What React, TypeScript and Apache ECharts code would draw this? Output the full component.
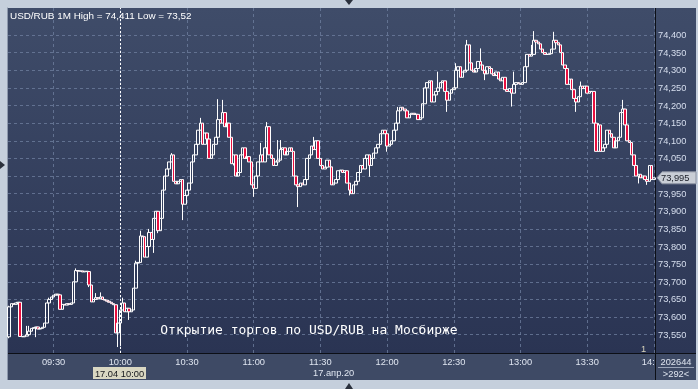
import React, { useEffect, useRef } from "react";
import * as echarts from "echarts";

// ---------- data ----------
const START_MINUTE = 9 * 60 + 10; // first bar 09:10
const TICK_LABELS = ["09:30", "10:00", "10:30", "11:00", "11:30", "12:00", "12:30", "13:00", "13:30", "14:00"];
const CURSOR_TIME = "10:00";
const Y_MIN_TICK = 73.55;
const Y_MAX_TICK = 74.4;
const Y_STEP = 0.05;
const BASE = 73; // prices stored as thousandths above 73.000
const FIRST_OPEN = 544;
const CLOSES = [
  629, 638, 636, 640, 642, 545, 544, 546, 550, 560,
  568, 570, 572, 566, 568, 571, 583, 640, 650, 657,
  662, 665, 663, 622, 636, 634, 638, 636, 640, 700,
  732, 730, 731, 728, 730, 729, 691, 643, 650, 655,
  652, 657, 650, 648, 645, 642, 638, 635, 555, 583,
  620, 640, 615, 625, 615, 620, 682, 753, 755, 830,
  828, 770, 800, 840, 820, 880, 900, 845, 880, 960,
  1000, 1020, 1040, 1060, 985, 978, 985, 990, 920, 945,
  960, 980, 1040, 1060, 1090, 1130, 1150, 1090, 1122, 1105,
  1050, 1060, 1090, 1110, 1160, 1150, 1180, 1140, 1150, 1110,
  1035, 1060, 1000, 1010, 1060, 1080, 1050, 1055, 1040, 975,
  965, 1000, 1040, 1060, 1040, 1080, 1140, 1060, 1050, 1030,
  1040, 1045, 1075, 1080, 1060, 1070, 1080, 1070, 1000, 975,
  970, 980, 975, 990, 1050, 1060, 1085, 1075, 1100, 1050,
  1030, 1020, 1025, 1045, 1026, 975, 980, 990, 1015, 1017,
  1010, 1015, 980, 960, 950, 975, 985, 1010, 1030, 1020,
  1050, 1060, 1030, 1050, 1065, 1080, 1090, 1120, 1130, 1120,
  1085, 1090, 1100, 1130, 1150, 1185, 1195, 1190, 1185, 1165,
  1175, 1178, 1175, 1175, 1160, 1165, 1205, 1250, 1265, 1270,
  1210, 1230, 1240, 1250, 1265, 1270, 1240, 1215, 1235, 1245,
  1250, 1300, 1310, 1280, 1295, 1300, 1372, 1321, 1300, 1295,
  1305, 1325, 1315, 1300, 1290, 1310, 1305, 1290, 1285, 1295,
  1275, 1270, 1280, 1245, 1240, 1248, 1235, 1260, 1265, 1262,
  1260, 1265, 1310, 1345, 1340, 1345, 1385, 1380, 1375, 1360,
  1350, 1345, 1345, 1347, 1360, 1385, 1378, 1372, 1350, 1315,
  1305, 1260, 1275, 1245, 1220, 1210, 1225, 1255, 1248, 1255,
  1235, 1240, 1240, 1150, 1070, 1145, 1070, 1080, 1090, 1130,
  1120, 1110, 1080, 1100, 1110, 1180, 1190, 1145, 1100, 1095,
  1060, 1030, 1000, 1005, 995, 1000, 990, 985, 1030, 990,
  995,
];
const HIGHS: Record<number, number> = {
  0: 632, 8: 575, 9: 575, 18: 655, 30: 738, 39: 668, 41: 670, 51: 655, 57: 760, 59: 845,
  63: 850, 73: 1065, 86: 1165, 94: 1218, 96: 1216, 113: 1094, 116: 1153, 121: 1102, 122: 1102,
  137: 1111, 175: 1196, 193: 1296, 201: 1320, 206: 1386, 212: 1362, 227: 1296, 235: 1372,
  236: 1411, 245: 1409, 257: 1268, 265: 1150, 276: 1216,
};
const LOWS: Record<number, number> = {
  0: 540, 12: 543, 36: 685, 49: 515, 50: 518, 54: 592, 65: 782, 67: 838, 78: 875, 101: 1030,
  110: 941, 130: 912, 153: 945, 162: 998, 170: 1069, 197: 1182, 214: 1272, 226: 1197,
  255: 1182, 283: 979, 287: 975,
};
const LAST_PRICE = 73.995;
const TITLE = "USD/RUB 1M High = 74,411 Low = 73,52";
const CAPTION = "Открытие торгов по USD/RUB на Мосбирже";
const CURSOR_LABEL = "17.04 10:00";
const DATE_LABEL = "17.апр.20";
const COUNTER_TOP = "202644";
const COUNTER_BOTTOM = ">292<";
const PANE_NUMBER = "1";

// ---------- layout ----------
const W = 698;
const H = 389;
const PLOT = { left: 8, top: 8, width: 647, height: 345 };
const TICK_TOP_PX = 35;
const TICK_BOT_PX = 334.7;
const FONT = '"Liberation Sans", Arial, sans-serif';
const FS = 9.3;

const pad2 = (n: number) => String(n).padStart(2, "0");

export default function App() {
  const ref = useRef<HTMLDivElement>(null);

  useEffect(() => {
    if (!ref.current) return;
    const chart = echarts.init(ref.current, undefined, { renderer: "svg" });

    const cats = CLOSES.map((_, i) => {
      const m = START_MINUTE + i;
      return `${pad2(Math.floor(m / 60))}:${pad2(m % 60)}`;
    });
    const bars = CLOSES.map((c, i) => {
      const o = i === 0 ? FIRST_OPEN : CLOSES[i - 1];
      const h = HIGHS[i] ?? Math.max(o, c);
      const l = LOWS[i] ?? Math.min(o, c);
      return [o, c, l, h].map((v) => +(BASE + v / 1000).toFixed(3));
    });

    const ppu = (TICK_BOT_PX - TICK_TOP_PX) / (Y_MAX_TICK - Y_MIN_TICK);
    const y0max = Y_MAX_TICK + (TICK_TOP_PX - PLOT.top) / ppu;
    const y0min = Y_MIN_TICK - (PLOT.top + PLOT.height - TICK_BOT_PX) / ppu;
    const tagY = TICK_TOP_PX + (Y_MAX_TICK - LAST_PRICE) * ppu;

    const isTick = (_i: number, v: string) => TICK_LABELS.includes(v);
    const lastTick = TICK_LABELS[TICK_LABELS.length - 1];
    const gridColor = "rgba(112,128,160,0.75)";
    const plotGrad = new echarts.graphic.LinearGradient(0, 0, 0, 1, [
      { offset: 0, color: "#3f4c69" },
      { offset: 1, color: "#2a3453" },
    ]);
    const sideGrad = new echarts.graphic.LinearGradient(0, 0, 0, 1, [
      { offset: 0, color: "#3f4c69" },
      { offset: 1, color: "#2c3655" },
    ]);
    const txt = (text: string, x: number, y: number, fill: string, align = "left", font = `${FS}px ${FONT}`, z = 20) => ({
      type: "text",
      z,
      style: { text, x, y, fill, align, verticalAlign: "middle", font },
    });

    const right = PLOT.left + PLOT.width; // 655

    chart.setOption({
      animation: false,
      backgroundColor: "transparent",
      grid: [
        { left: PLOT.left, top: PLOT.top, width: PLOT.width, height: PLOT.height, show: false },
        { left: PLOT.left, top: TICK_TOP_PX, width: PLOT.width, height: TICK_BOT_PX - TICK_TOP_PX, show: false },
      ],
      xAxis: [
        {
          type: "category",
          gridIndex: 0,
          data: cats,
          boundaryGap: true,
          z: 1,
          axisLine: { show: false },
          axisTick: { show: false },
          axisLabel: {
            interval: isTick,
            color: "#dfe5f0",
            fontSize: FS,
            fontFamily: FONT,
            margin: 4,
            // the last tick label is cut by the price panel, as in the source
            formatter: (v: string) => (v === lastTick ? `{cut|${v.slice(0, 4)}}` : v),
            rich: { cut: { color: "#dfe5f0", fontSize: FS, fontFamily: FONT, padding: [0, 6, 0, 0] } },
          },
          splitLine: { show: true, interval: isTick, alignWithLabel: true, lineStyle: { color: gridColor, type: [3, 3], width: 1 } },
        },
        { type: "value", gridIndex: 1, show: false, min: 0, max: 1 },
      ],
      yAxis: [
        { type: "value", gridIndex: 0, show: false, min: y0min, max: y0max },
        {
          type: "value",
          gridIndex: 1,
          position: "right",
          min: Y_MIN_TICK,
          max: Y_MAX_TICK,
          interval: Y_STEP,
          z: 10,
          axisLine: { show: false },
          axisTick: { show: false },
          axisLabel: {
            color: "#d6deee",
            fontSize: FS,
            fontFamily: FONT,
            margin: 3,
            showMinLabel: true,
            showMaxLabel: true,
            formatter: (v: number) => (Math.abs(v - LAST_PRICE) < Y_STEP / 2 ? "" : v.toFixed(3).replace(".", ",")),
          },
          splitLine: { show: true, lineStyle: { color: gridColor, type: [3, 3], width: 1 } },
        },
      ],
      series: [
        {
          type: "candlestick",
          xAxisIndex: 0,
          yAxisIndex: 0,
          z: 11,
          data: bars,
          barWidth: 3,
          itemStyle: {
            color: "rgba(0,0,0,0)",
            color0: "#e8103f",
            borderColor: "#ffffff",
            borderColor0: "#ffffff",
            borderWidth: 1,
          },
          markLine: {
            silent: true,
            symbol: "none",
            label: { show: false },
            lineStyle: { color: "#ffffff", type: [2, 2], width: 1 },
            data: [{ xAxis: CURSOR_TIME }],
          },
        },
      ],
      graphic: [
        { type: "rect", z: -20, shape: { x: 0, y: 0, width: W, height: H }, style: { fill: "#c5cfdc" } },
        { type: "rect", z: -10, shape: { x: PLOT.left, y: PLOT.top, width: PLOT.width, height: PLOT.height + 1 }, style: { fill: plotGrad } },
        { type: "rect", z: -10, shape: { x: PLOT.left, y: 354, width: 688, height: 26 }, style: { fill: "#3e4a65" } },
        { type: "line", z: -9, shape: { x1: 7.5, y1: 7.5, x2: 7.5, y2: 380 }, style: { stroke: "#8e99ad", lineWidth: 1 } },
        // right panel
        { type: "rect", z: 5, shape: { x: right, y: PLOT.top, width: 41, height: 346 }, style: { fill: sideGrad } },
        { type: "rect", z: 5, shape: { x: right, y: 354, width: 41, height: 26 }, style: { fill: "#3e4a65" } },
        { type: "line", z: 6, shape: { x1: PLOT.left, y1: 353.5, x2: 696, y2: 353.5 }, style: { stroke: "#0c0f16", lineWidth: 1 } },
        { type: "line", z: 6, shape: { x1: right + 0.5, y1: PLOT.top, x2: right + 0.5, y2: 380 }, style: { stroke: "#0c0f16", lineWidth: 1 } },
        { type: "line", z: 6, shape: { x1: 658, y1: 367.5, x2: 694, y2: 367.5 }, style: { stroke: "#9aa4b8", lineWidth: 1 } },
        // texts
        txt(TITLE, 10, 15, "#ffffff", "left", `9.9px ${FONT}`),
        txt(CAPTION, 309, 329, "#ffffff", "center", '13px "DejaVu Sans Mono", monospace'),
        txt(DATE_LABEL, 313, 373, "#dfe5f0"),
        { type: "rect", z: 20, shape: { x: 93, y: 367, width: 53, height: 12 }, style: { fill: "#d9d7c2" } },
        txt(CURSOR_LABEL, 119.5, 373.5, "#15171c", "center", `${FS}px ${FONT}`, 21),
        txt(COUNTER_TOP, 676, 361.5, "#dfe5f0", "center"),
        txt(COUNTER_BOTTOM, 676, 373.5, "#dfe5f0", "center"),
        txt(PANE_NUMBER, 641, 349, "#d8d4bc"),
        // last price tag
        {
          type: "polygon",
          z: 20,
          shape: { points: [[657, tagY], [662, tagY - 6], [696, tagY - 6], [696, tagY + 6], [662, tagY + 6]] },
          style: { fill: "#c9ced6", stroke: "#8a92a2", lineWidth: 1 },
        },
        txt(LAST_PRICE.toFixed(3).replace(".", ","), 661, tagY + 0.5, "#1a1e28", "left", `${FS}px ${FONT}`, 21),
        // slider markers
        { type: "polygon", z: 20, shape: { points: [[345, 0], [353, 0], [349, 5]] }, style: { fill: "#2a303c" } },
        { type: "polygon", z: 20, shape: { points: [[345, 389], [353, 389], [349, 383]] }, style: { fill: "#2a303c" } },
        { type: "polygon", z: 20, shape: { points: [[0, 161], [0, 169], [5, 165]] }, style: { fill: "#2a303c" } },
      ],
    });

    return () => chart.dispose();
  }, []);

  return <div ref={ref} style={{ position: "fixed", left: 0, top: 0, width: W, height: H }} />;
}
